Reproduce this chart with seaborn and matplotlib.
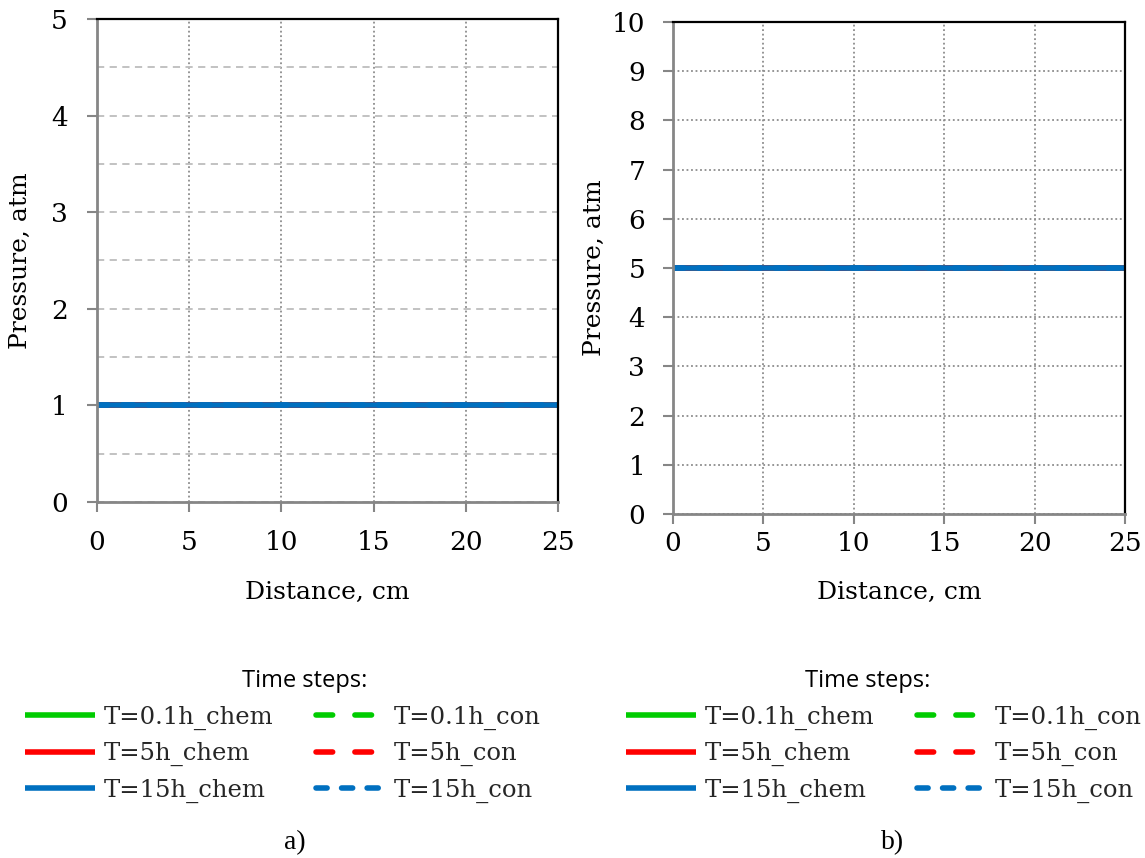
import numpy as np
import pandas as pd
import matplotlib
matplotlib.use("Agg")
import matplotlib.pyplot as plt
from matplotlib.ticker import MultipleLocator
import seaborn as sns

# ---- data ----
distance = [0, 5, 10, 15, 20, 25]
labels = ["T=0.1h_chem", "T=5h_chem", "T=15h_chem",
          "T=0.1h_con", "T=5h_con", "T=15h_con"]
# panel a) pressure, atm
p_a_chem_01 = [1, 1, 1, 1, 1, 1]
p_a_chem_5 = [1, 1, 1, 1, 1, 1]
p_a_chem_15 = [1, 1, 1, 1, 1, 1]
p_a_con_01 = [1, 1, 1, 1, 1, 1]
p_a_con_5 = [1, 1, 1, 1, 1, 1]
p_a_con_15 = [1, 1, 1, 1, 1, 1]
# panel b) pressure, atm
p_b_chem_01 = [5, 5, 5, 5, 5, 5]
p_b_chem_5 = [5, 5, 5, 5, 5, 5]
p_b_chem_15 = [5, 5, 5, 5, 5, 5]
p_b_con_01 = [5, 5, 5, 5, 5, 5]
p_b_con_5 = [5, 5, 5, 5, 5, 5]
p_b_con_15 = [5, 5, 5, 5, 5, 5]

colors = ["#00CC00", "#FF0000", "#0070C0", "#00CC00", "#FF0000", "#0070C0"]
styles = ["-", "-", "-", (0, (3, 4)), (0, (3, 4)), (0, (2, 2.6))]

sns.set_theme(style="white")
plt.rcParams["font.family"] = ["DejaVu Serif"]

W, H = 1145, 858
fig = plt.figure(figsize=(W / 100, H / 100), dpi=100)
ax_a = fig.add_axes([97/W, 1-502/H, (558-97)/W, (502-19)/H])
ax_b = fig.add_axes([673/W, 1-514/H, (1125-673)/W, (514-22)/H])

series_a = [p_a_chem_01, p_a_chem_5, p_a_chem_15, p_a_con_01, p_a_con_5, p_a_con_15]
series_b = [p_b_chem_01, p_b_chem_5, p_b_chem_15, p_b_con_01, p_b_con_5, p_b_con_15]
order = [0, 3, 1, 4, 2, 5]

TICK_FS = 19
LAB_FS = 18

panels = [
    (ax_a, series_a, 5, "a", 14, 14, 13, 19, 25 / W, 305 / W, 295 / W),
    (ax_b, series_b, 10, "b", 13, 4, 5, 18, 626 / W, 868 / W, 893 / W),
]

for ax, series, ymax, tag, ypad, ylabpad, xpad, xlabpad, leg_x, title_x, tag_x in panels:
    for i in order:
        sns.lineplot(x=distance, y=series[i], ax=ax, color=colors[i], linewidth=4,
                     linestyle=styles[i], label=labels[i], legend=False,
                     solid_capstyle="butt", dash_capstyle="round")
    ax.set_xlim(0, 25)
    ax.set_ylim(0, ymax)
    ax.xaxis.set_major_locator(MultipleLocator(5))
    ax.yaxis.set_major_locator(MultipleLocator(1))
    ax.set_axisbelow(True)
    ax.grid(True, axis="x", which="major", linestyle=(0, (1, 1.5)), color="#8c8c8c", linewidth=1.3)
    if tag == "a":
        ax.yaxis.set_minor_locator(MultipleLocator(0.5))
        ax.grid(True, axis="y", which="both", linestyle=(0, (4, 3)), color="#bdbdbd", linewidth=1.3)
        ax.tick_params(axis="y", which="minor", length=0)
    else:
        ax.grid(True, axis="y", which="major", linestyle=(0, (1, 1.5)), color="#8c8c8c", linewidth=1.3)
    for side in ["left", "bottom"]:
        ax.spines[side].set_color("#868686")
        ax.spines[side].set_linewidth(2)
    for side in ["top", "right"]:
        ax.spines[side].set_color("black")
        ax.spines[side].set_linewidth(1.6)
    ax.tick_params(axis="both", which="major", direction="out", length=7, width=1.5,
                   color="#868686", labelsize=TICK_FS, left=True, bottom=True,
                   labelcolor="black")
    ax.tick_params(axis="y", pad=ypad)
    ax.tick_params(axis="x", pad=xpad)
    ax.set_xlabel("Distance, cm", fontsize=LAB_FS, labelpad=xlabpad, color="black")
    ax.set_ylabel("Pressure, atm", fontsize=LAB_FS, labelpad=ylabpad, color="black")

    handles, labs = ax.get_legend_handles_labels()
    hmap = dict(zip(labs, handles))
    hs = [hmap[l] for l in labels]
    fig.legend(hs, labels, loc="upper left", bbox_to_anchor=(leg_x, 1 - 706/H),
               ncol=2, frameon=False, borderpad=0,
               prop={"family": "DejaVu Serif", "size": 17.5},
               handlelength=2.9, handletextpad=0.33, columnspacing=1.75,
               labelspacing=0.5, borderaxespad=0)
    fig.text(title_x, 1 - 681/H, "Time steps:", ha="center", va="center",
             family="Open Sans", fontsize=17, color="black")
    fig.text(tag_x, 1 - 843/H, tag + ")", ha="center", va="center",
             family="Liberation Serif", fontsize=20, color="black")

fig.savefig("out.png", dpi=100)
